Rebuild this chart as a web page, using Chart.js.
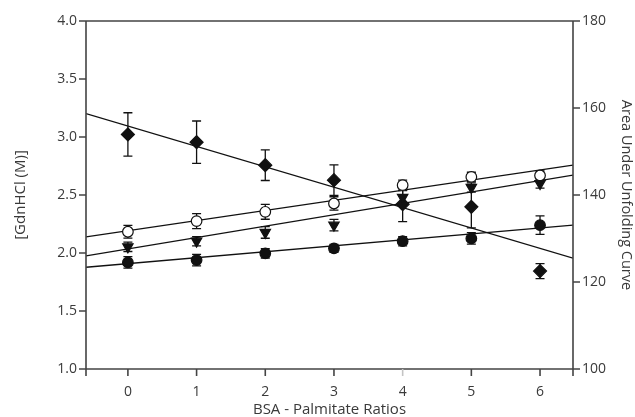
<!DOCTYPE html>
<html>
<head>
<meta charset="utf-8">
<script src="https://cdn.jsdelivr.net/npm/chart.js@4/dist/chart.umd.min.js"></script>
<style>
html,body{margin:0;padding:0;background:#fff;}
#wrap{width:635px;height:417px;}
</style>
</head>
<body>
<div id="wrap"><canvas id="c" width="635" height="417"></canvas></div>
<script>
// ---- data ----
const ratios = [0, 1, 2, 3, 4, 5, 6];
const xTicks = [0, 1, 2, 3, 4, 5, 6];
const leftTicks = [1.0, 1.5, 2.0, 2.5, 3.0, 3.5, 4.0];
const rightTicks = [100, 120, 140, 160, 180];

const diamondVals = [3.022, 2.955, 2.757, 2.628, 2.421, 2.398, 1.844];
const diamondErr  = [0.187, 0.183, 0.132, 0.132, 0.151, 0.181, 0.065];
const openVals    = [2.183, 2.275, 2.355, 2.427, 2.585, 2.656, 2.668];
const openErr     = [0.055, 0.065, 0.064, 0.058, 0.043, 0.04, 0.04];
const triVals     = [2.053, 2.102, 2.177, 2.240, 2.479, 2.565, 2.599];
const triErr      = [0.04, 0.04, 0.05, 0.05, 0.06, 0.04, 0.04];
const fillVals    = [1.919, 1.939, 1.997, 2.040, 2.102, 2.126, 2.240];
const fillErr     = [0.05, 0.05, 0.04, 0.035, 0.04, 0.05, 0.08];

// fitted lines, endpoints at the axis ends
const lineX        = [-0.61, 6.48];
const diamondLine  = [3.201, 1.956];
const openLine     = [2.139, 2.757];
const triLine      = [1.976, 2.671];
const fillLine     = [1.877, 2.240];

const xMin = -0.61, xMax = 6.48;

const pts = (xs, ys) => xs.map((x, i) => ({x: x, y: ys[i]}));

const FONT = "'Open Sans', 'DejaVu Sans', sans-serif";
const TXT = '#3a3a3a';
const AX = '#444';
const TICK_LEN = 7;

const errorBars = {
  id: 'errorBars',
  beforeDatasetsDraw(chart) {
    const ctx = chart.ctx;
    const xs = chart.scales.x, ys = chart.scales.y;
    ctx.save();
    ctx.strokeStyle = '#111';
    ctx.lineWidth = 1.3;
    chart.data.datasets.forEach((ds) => {
      if (!ds.err) return;
      ds.data.forEach((p, i) => {
        const e = ds.err[i];
        const px = xs.getPixelForValue(p.x);
        const y1 = ys.getPixelForValue(p.y + e);
        const y2 = ys.getPixelForValue(p.y - e);
        const cap = 4.5;
        ctx.beginPath();
        ctx.moveTo(px, y1); ctx.lineTo(px, y2);
        ctx.moveTo(px - cap, y1); ctx.lineTo(px + cap, y1);
        ctx.moveTo(px - cap, y2); ctx.lineTo(px + cap, y2);
        ctx.stroke();
      });
    });
    ctx.restore();
  }
};

const frame = {
  id: 'frame',
  afterDraw(chart) {
    const a = chart.chartArea, ctx = chart.ctx;
    const sx = chart.scales.x, sy = chart.scales.y, sy2 = chart.scales.y2;
    ctx.save();
    ctx.lineWidth = 1.6;
    ctx.strokeStyle = AX;
    ctx.beginPath();
    ctx.moveTo(a.left, a.top); ctx.lineTo(a.right, a.top);
    ctx.moveTo(a.left, a.top); ctx.lineTo(a.left, a.bottom + TICK_LEN);
    ctx.moveTo(a.right, a.top); ctx.lineTo(a.right, a.bottom + TICK_LEN);
    ctx.moveTo(a.left, a.bottom); ctx.lineTo(a.right, a.bottom);
    leftTicks.forEach(v => { const y = sy.getPixelForValue(v); ctx.moveTo(a.left - TICK_LEN, y); ctx.lineTo(a.left, y); });
    rightTicks.forEach(v => { const y = sy2.getPixelForValue(v); ctx.moveTo(a.right, y); ctx.lineTo(a.right + TICK_LEN, y); });
    ctx.stroke();
    xTicks.forEach(v => {
      const x = sx.getPixelForValue(v);
      ctx.beginPath();
      ctx.strokeStyle = v === 4 ? '#c4c4c4' : AX;
      ctx.moveTo(x, a.bottom); ctx.lineTo(x, a.bottom + TICK_LEN);
      ctx.stroke();
    });
    ctx.restore();
  }
};

const lineDs = (ys) => ({
  type: 'line', data: pts(lineX, ys), borderColor: '#111', borderWidth: 1.3,
  pointRadius: 0, fill: false, tension: 0, yAxisID: 'y', order: 5
});

const markerDs = (vals, err, style, fill, r, rot) => ({
  type: 'scatter', data: pts(ratios, vals), err: err,
  pointStyle: style, pointRadius: r, pointRotation: rot || 0,
  backgroundColor: fill, borderColor: '#111', borderWidth: 1.2,
  yAxisID: 'y', order: 1
});

const gridOpts = {display: true, drawOnChartArea: false, drawTicks: true, tickLength: TICK_LEN, color: 'rgba(0,0,0,0)', tickColor: 'rgba(0,0,0,0)'};

new Chart(document.getElementById('c'), {
  data: {
    datasets: [
      lineDs(diamondLine), lineDs(openLine), lineDs(triLine), lineDs(fillLine),
      markerDs(fillVals, fillErr, 'circle', '#111', 5.3),
      markerDs(triVals, triErr, 'triangle', '#111', 6, 180),
      markerDs(openVals, openErr, 'circle', '#fff', 5.3),
      markerDs(diamondVals, diamondErr, 'rectRot', '#111', 6.5)
    ]
  },
  options: {
    responsive: false,
    animation: false,
    devicePixelRatio: 1,
    layout: {padding: {left: 0, right: 0, top: 21, bottom: 0}},
    plugins: {legend: {display: false}, tooltip: {enabled: false}},
    scales: {
      x: {
        type: 'linear', min: xMin, max: xMax,
        afterBuildTicks: (s) => { s.ticks = xTicks.map(v => ({value: v})); },
        afterFit: (s) => { s.height = 48; },
        grid: gridOpts,
        border: {display: false},
        ticks: {color: TXT, font: {family: FONT, size: 14, lineHeight: 1.0}, padding: 9},
        title: {display: true, text: 'BSA - Palmitate Ratios', color: TXT, font: {family: FONT, size: 15, lineHeight: 1.0}, padding: {top: 0, bottom: 0}}
      },
      y: {
        type: 'linear', position: 'left', min: 1, max: 4,
        afterBuildTicks: (s) => { s.ticks = leftTicks.map(v => ({value: v})); },
        afterFit: (s) => { s.width = 86; },
        grid: gridOpts,
        border: {display: false},
        ticks: {color: TXT, font: {family: FONT, size: 14}, padding: 2, callback: (v) => Number(v).toFixed(1)},
        title: {display: true, text: '[GdnHCl (M)]', color: TXT, font: {family: FONT, size: 15}, padding: {top: 12, bottom: 25}}
      },
      y2: {
        type: 'linear', position: 'right', min: 100, max: 180,
        afterBuildTicks: (s) => { s.ticks = rightTicks.map(v => ({value: v})); },
        afterFit: (s) => { s.width = 62; },
        grid: gridOpts,
        border: {display: false},
        ticks: {color: TXT, font: {family: FONT, size: 14}, padding: 2},
        title: {display: true, text: 'Area Under Unfolding Curve', color: TXT, font: {family: FONT, size: 14.5}, padding: {top: 0, bottom: 10}}
      }
    }
  },
  plugins: [errorBars, frame]
});
</script>
</body>
</html>
